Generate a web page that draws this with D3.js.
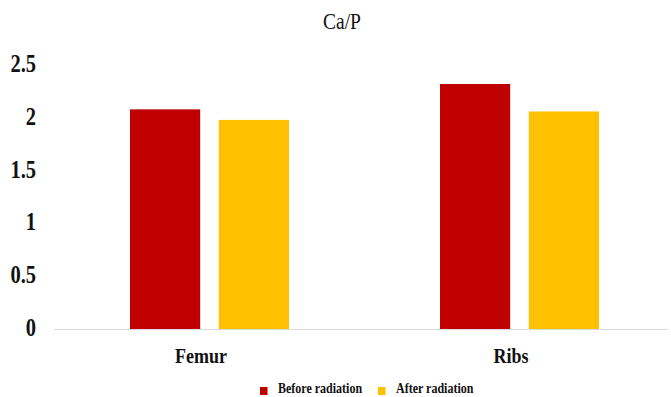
<!DOCTYPE html>
<html>
<head>
<meta charset="utf-8">
<script src="https://cdn.jsdelivr.net/npm/d3@7"></script>
<style>
  html, body { margin: 0; padding: 0; background: #fff; }
  svg { display: block; }
  text { font-family: "Liberation Serif", "Times New Roman", serif; }
</style>
</head>
<body>
<svg id="chart" width="671" height="397"></svg>
<script>
// Ca/P ratio by bone, before and after radiation
const categories = ["Femur", "Ribs"];
const seriesNames = ["Before radiation", "After radiation"];
const beforeValues = [2.08, 2.32];
const afterValues = [1.98, 2.06];
const yTicks = [0, 0.5, 1, 1.5, 2, 2.5];
const colors = ["#C00000", "#FFC000"];

const rows = categories.map((c, i) => ({
  category: c,
  values: [beforeValues[i], afterValues[i]]
}));

const svg = d3.select("#chart");

// outer band per bone, inner band per series (offsets within each outer band)
const x0 = d3.scaleBand().domain(categories).range([50, 670]);
const x1 = d3.scaleBand().domain(seriesNames).range([80, 239]).paddingInner(0.21);
const y = d3.scaleLinear().domain([0, 2.5]).range([329, 65]);

// serif labels are drawn slightly taller than wide
const STRETCH = 1.2;
function stretched(sel) {
  return sel.attr("transform", function () {
    const tx = +this.getAttribute("data-x"), ty = +this.getAttribute("data-y");
    return `translate(${tx},${ty}) scale(1,${STRETCH})`;
  });
}

// title
svg.append("text")
  .attr("data-x", 342).attr("data-y", 29)
  .attr("text-anchor", "middle")
  .attr("font-size", 19.5)
  .attr("fill", "#111")
  .text("Ca/P")
  .call(stretched);

// y axis tick labels
svg.append("g").selectAll("text")
  .data(yTicks)
  .join("text")
  .attr("data-x", 36)
  .attr("data-y", d => y(d) + 7)
  .attr("text-anchor", "end")
  .attr("font-size", 20.5)
  .attr("font-weight", "bold")
  .attr("fill", "#111")
  .text(d => d3.format("")(d))
  .call(stretched);

// bars
const groups = svg.append("g").selectAll("g")
  .data(rows)
  .join("g")
  .attr("transform", d => `translate(${x0(d.category)},0)`);

groups.selectAll("rect")
  .data(d => d.values.map((v, i) => ({ key: seriesNames[i], value: v, color: colors[i] })))
  .join("rect")
  .attr("x", d => x1(d.key))
  .attr("width", x1.bandwidth())
  .attr("y", d => y(d.value))
  .attr("height", d => y(0) - y(d.value))
  .attr("fill", d => d.color);

// baseline
svg.append("line")
  .attr("x1", 54).attr("x2", 668)
  .attr("y1", y(0) + 0.5).attr("y2", y(0) + 0.5)
  .attr("stroke", "#d9d9d9")
  .attr("stroke-width", 1.2);

// category labels
svg.append("g").selectAll("text")
  .data(categories)
  .join("text")
  .attr("data-x", d => x0(d) + x0.bandwidth() / 2 - 4)
  .attr("data-y", 363)
  .attr("text-anchor", "middle")
  .attr("font-size", 18)
  .attr("font-weight", "bold")
  .attr("fill", "#111")
  .text(d => d)
  .call(stretched);

// legend
const legendX = [260, 378];
const legend = svg.append("g").selectAll("g")
  .data(seriesNames)
  .join("g");
legend.append("rect")
  .attr("x", (d, i) => legendX[i])
  .attr("y", 387)
  .attr("width", 7.5)
  .attr("height", 8)
  .attr("fill", (d, i) => colors[i]);
legend.append("text")
  .attr("data-x", (d, i) => legendX[i] + 18)
  .attr("data-y", 393)
  .attr("font-size", 12)
  .attr("font-weight", "bold")
  .attr("fill", "#111")
  .text(d => d)
  .call(stretched);
</script>
</body>
</html>
